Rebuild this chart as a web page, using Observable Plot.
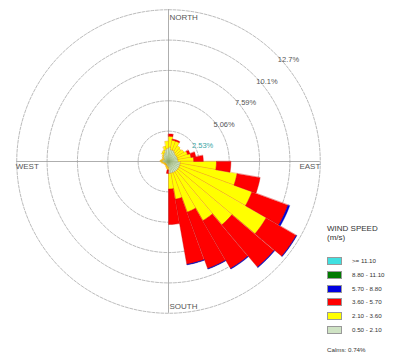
<!DOCTYPE html>
<html><head><meta charset="utf-8">
<script src="https://cdn.jsdelivr.net/npm/d3@7"></script>
<script src="https://cdn.jsdelivr.net/npm/@observablehq/plot@0.6"></script>
<style>
body{margin:0;background:#fff;font-family:Arial,"Liberation Sans",sans-serif;}
#wrap{position:relative;width:396px;height:358px;overflow:hidden;}
#legend{position:absolute;left:327px;top:224px;color:#333;font-size:6.2px;}
#legend .title{font-size:8px;line-height:9px;}
#legend .row{position:absolute;left:0;width:70px;height:10px;}
#legend .sw{position:absolute;left:0;top:0;width:15px;height:8px;border:1px solid #999;box-sizing:border-box;}
#legend .lab{position:absolute;left:25px;top:0;line-height:8px;white-space:nowrap;}
#legend .calm{position:absolute;left:0;top:122px;white-space:nowrap;}
</style></head><body>
<div id="wrap"><div id="chart"></div><div id="legend"></div></div>
<script>
// Sector centre bearing (degrees) of each petal
const directions = [5,15,25,35,45,55,65,75,85,95,105,115,125,135,145,155,165,175,185,195,205,215,225,235,245,255,265,275,285,295,305,315,325,335,345,355];
// Frequency (%) per speed class, per direction
const s0_50_2_10  = [1.2,1.0,1.0,0.9,0.8,0.8,0.8,0.8,0.8,1.0,1.0,1.0,1.0,1.0,1.0,1.0,1.0,1.0,0.5,0.4,0.4,0.3,0.3,0.3,0.3,0.4,0.5,0.6,0.5,0.4,0.5,0.6,0.7,0.8,1.0,1.1];
const s2_10_3_60  = [0.9,0.8,0.8,0.6,0.6,0.7,0.9,1.1,1.3,3.0,4.8,6.4,8.4,5.9,4.7,3.5,2.2,1.3,0.2,0.2,0.1,0.1,0.1,0.1,0.1,0.1,0.1,0.1,0.1,0.1,0.1,0.1,0.2,0.2,0.3,0.6];
const s3_60_5_70  = [0.2,0.1,0.1,0.0,0.0,0.0,0.2,0.4,0.8,1.2,1.95,3.2,2.9,4.6,4.6,5.0,5.5,2.95,0.3,0.0,0.0,0.0,0.0,0.0,0.0,0.0,0.0,0.0,0.0,0.0,0.0,0.0,0.0,0.0,0.0,0.0];
const s5_70_8_80  = [0,0,0,0,0,0,0,0,0,0,0,0.15,0.05,0.06,0.06,0.05,0.05,0,0,0,0,0,0,0,0,0,0,0,0,0,0,0,0,0,0,0];
const s8_80_11_10 = new Array(36).fill(0);
const s_ge_11_10  = new Array(36).fill(0);
const classLabels = ["0.50 - 2.10","2.10 - 3.60","3.60 - 5.70","5.70 - 8.80","8.80 - 11.10",">= 11.10"];
const classSeries = [s0_50_2_10, s2_10_3_60, s3_60_5_70, s5_70_8_80, s8_80_11_10, s_ge_11_10];
const classFill   = ["#cfe3c4","#ffff00","#ff0000","#0000e0","#007a00","#40e0e0"];
const classStroke = ["#8fa868","#f09000","#d00000","#000090","#004000","#20a0a0"];
const ringValues = [2.53, 5.06, 7.59, 10.1, 12.7];
const ringLabels = ["2.53%","5.06%","7.59%","10.1%","12.7%"];
const cardinals = ["NORTH","EAST","SOUTH","WEST"];
const calmsText = "Calms: 0.74%";
const legendTitle = ["WIND SPEED","(m/s)"];

const R = 2.53 * 5; // outer ring radius in %
const rad = d => d * Math.PI / 180;
const px = (r, b) => r * Math.sin(rad(b));
const py = (r, b) => r * Math.cos(rad(b));

// build stacked wedge polygons
const HW = 4.9;
const segs = classLabels.map(() => []);
directions.forEach((b, i) => {
  let r0 = 0;
  classSeries.forEach((ser, k) => {
    const v = ser[i];
    if (v > 0) {
      const r1 = r0 + v;
      const id = `${k}-${b}`;
      const pts = [];
      for (let t = 0; t <= 6; t++) { const a = b - HW + (2*HW)*t/6; pts.push({id, x: px(r1,a), y: py(r1,a)}); }
      if (r0 === 0) pts.push({id, x: 0, y: 0});
      else for (let t = 6; t >= 0; t--) { const a = b - HW + (2*HW)*t/6; pts.push({id, x: px(r0,a), y: py(r0,a)}); }
      segs[k].push(...pts);
      r0 = r1;
    }
  });
});

// ring circles
const ringPts = [];
ringValues.forEach((v, i) => {
  const r = 2.53 * (i + 1);
  for (let a = 0; a <= 360; a += 3) ringPts.push({ring: i, x: px(r, a), y: py(r, a)});
});
const ringLab = ringValues.map((v, i) => ({label: ringLabels[i], x: 2.53*(i+1)*Math.SQRT1_2, y: 2.53*(i+1)*Math.SQRT1_2, first: i === 0}));

const marks = [
  Plot.line(ringPts, {x: "x", y: "y", z: "ring", stroke: "#aaa", strokeWidth: 0.8, strokeDasharray: "3,1.5"}),
  Plot.ruleX([0], {y1: -R, y2: R, stroke: "#999", strokeWidth: 0.8}),
  Plot.ruleY([0], {x1: -R, x2: R, stroke: "#999", strokeWidth: 0.8}),
  Plot.text(ringLab, {x: "x", y: "y", text: "label", textAnchor: "start", lineAnchor: "top", dx: 2, dy: 3, fontSize: 7.5, fill: d => d.first ? "#3aa6a6" : "#555"}),
];
segs.forEach((pts, k) => {
  if (pts.length) marks.push(Plot.line(pts, {x: "x", y: "y", z: "id", curve: "linear-closed", fill: classFill[k], stroke: classStroke[k], strokeWidth: 0.4}));
});
marks.push(
  Plot.text([{t: cardinals[0], x: 0, y: R}], {x: "x", y: "y", text: "t", textAnchor: "start", lineAnchor: "top", dx: 1, dy: 5, fontSize: 8, fill: "#555"}),
  Plot.text([{t: cardinals[2], x: 0, y: -R}], {x: "x", y: "y", text: "t", textAnchor: "start", lineAnchor: "bottom", dx: 1, dy: -4, fontSize: 8, fill: "#555"}),
  Plot.text([{t: cardinals[3], x: -R, y: 0}], {x: "x", y: "y", text: "t", textAnchor: "start", lineAnchor: "top", dx: -1, dy: 2, fontSize: 8, fill: "#555"}),
  Plot.text([{t: cardinals[1], x: R, y: 0}], {x: "x", y: "y", text: "t", textAnchor: "end", lineAnchor: "top", dx: 0, dy: 2, fontSize: 8, fill: "#555"})
);

const chart = Plot.plot({
  width: 396, height: 358, margin: 0,
  x: {domain: [-14, 19], axis: null},
  y: {domain: [-197/12, 161/12], axis: null},
  style: {fontFamily: "Arial, 'Liberation Sans', sans-serif", background: "#fff"},
  marks
});
document.getElementById("chart").appendChild(chart);

// legend
const lg = document.getElementById("legend");
lg.innerHTML = `<div class="title">${legendTitle[0]}</div><div class="title">${legendTitle[1]}</div>`;
const order = [5,4,3,2,1,0];
order.forEach((k, i) => {
  const row = document.createElement("div");
  row.className = "row";
  row.style.top = (33 + i * 13.8) + "px";
  row.innerHTML = `<div class="sw" style="background:${classFill[k]}"></div><div class="lab">${classLabels[k]}</div>`;
  lg.appendChild(row);
});
const c = document.createElement("div"); c.className = "calm"; c.textContent = calmsText; lg.appendChild(c);
</script>
</body></html>
